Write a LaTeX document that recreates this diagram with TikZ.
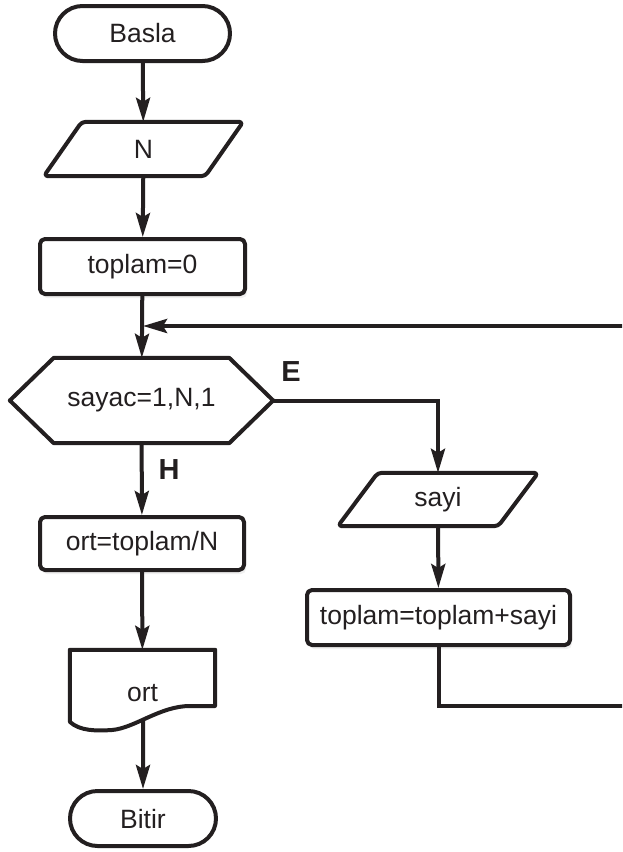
\documentclass[tikz,border=0pt]{standalone}
\usepackage{fontspec}
\setmainfont{Liberation Sans}
\usetikzlibrary{arrows.meta,calc,shapes.misc,shadows}
\definecolor{ink}{HTML}{231F20}
\begin{document}
\begin{tikzpicture}[x=1pt,y=-1pt,
  font=\fontsize{26.5}{31}\selectfont,
  every node/.style={text=ink},
  outline/.style={draw=ink, line width=4pt, line join=round},
  term/.style={outline, rounded rectangle, minimum height=55pt, inner sep=0pt},
  proc/.style={outline, rectangle, rounded corners=5pt, minimum height=55pt, inner sep=0pt, fill=white,
    drop shadow={shadow xshift=2pt, shadow yshift=-4pt, opacity=0.12}},
  slot/.style={minimum height=#1, inner sep=0pt},
  flow/.style={draw=ink, line width=4pt, -{Stealth[length=24pt,width=14pt,inset=4pt]}},
  wire/.style={draw=ink, line width=4pt},
  tag/.style={font=\fontsize{29}{34}\selectfont\bfseries}
]
\useasboundingbox (0,0) rectangle (622,852);
\clip (0,0) rectangle (622,852);

% left column
\node[term, minimum width=175pt] (basla) at (142.5,33.5) {Basla};
\node[slot=54pt, minimum width=161pt] (n) at (143.5,149) {N};
\node[proc, minimum width=205pt] (t0) at (142.5,266.5) {toplam=0};
\node[slot=85pt, minimum width=263pt] (hex) at (141.5,400.5) {sayac=1,N,1};
\node[proc, minimum width=204pt, minimum height=53pt] (ortN) at (142,543.5) {ort=toplam/N};
\node[slot=80pt, minimum width=145pt] (ort) at (142.5,690) {};
\node at (142.5,693) {ort};
\node[term, minimum width=146pt] (bitir) at (143,818.5) {Bitir};

% right column
\node[slot=53pt, minimum width=160pt] (sayi) at (438,499.5) {sayi};
\node[proc, minimum width=263pt] (sum) at (438.5,617.5) {toplam=toplam+sayi};

% input parallelograms
\draw[outline, rounded corners=4pt]
  ($(n.south west)+(-19,0)$) -- ($(n.north west)+(19,0)$) --
  ($(n.north east)+(19,0)$) -- ($(n.south east)+(-19,0)$) -- cycle;
\draw[outline, rounded corners=4pt]
  ($(sayi.south west)+(-20,0)$) -- ($(sayi.north west)+(20,0)$) --
  ($(sayi.north east)+(20,0)$) -- ($(sayi.south east)+(-20,0)$) -- cycle;

% loop hexagon
\draw[outline]
  (hex.west) -- ($(hex.north west)+(44,0)$) -- ($(hex.north east)+(-44,0)$) --
  (hex.east) -- ($(hex.south east)+(-44,0)$) -- ($(hex.south west)+(44,0)$) -- cycle;

% output document with wavy bottom
\draw[outline]
  (70,722) -- (ort.north west) -- (ort.north east) -- (215,706) -- (190,706)
  .. controls (160,706) and (135,728) .. (112,730)
  .. controls (96,731) and (80,731) .. (70,722) -- cycle;
\coordinate (ortout) at (143,719);
\coordinate (join) at (143,326);

% connectors
\draw[flow] (basla) -- (n);
\draw[flow] (n) -- (t0);
\draw[flow] (t0) -- (hex);
\draw[flow] (hex.east) -| (sayi.north);
\draw[flow] (sayi) -- (sum);
\draw[flow] (sum.south) |- (640,706) |- (join);
\draw[flow] (hex) -- (ortN);
\draw[flow] (ortN) -- (ort);
\draw[flow] (ortout) -- (bitir);

% branch labels
\node[tag] (yes) at (291,372) {E};
\node[tag] (no) at (169,470) {H};
\end{tikzpicture}
\end{document}
